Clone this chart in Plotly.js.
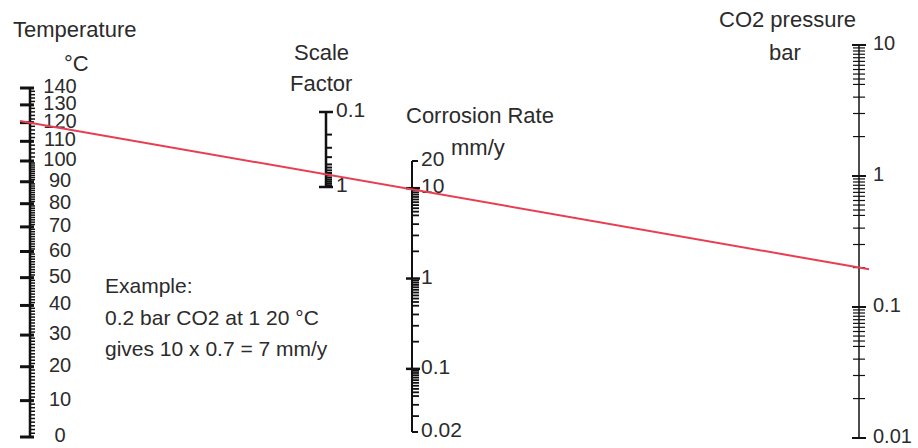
<!DOCTYPE html>
<html><head><meta charset="utf-8">
<script src="https://cdn.plot.ly/plotly-3.0.1.min.js"></script>
<style>html,body{margin:0;padding:0;background:#fff}#chart{width:918px;height:448px}</style>
</head><body><div id="chart"></div>
<script>
// ---------------- data ----------------
const tempMajor = [0,10,20,30,40,50,60,70,80,90,100,110,120,130,140];
const tempLabels = ['0','10','20','30','40','50','60','70','80','90','100','110','120','130','140'];
const sfEnds = [0.1, 1];
const sfLabels = ['0.1', '1'];
const sfMinor = [0.2,0.3,0.4,0.5,0.55,0.6,0.65,0.7,0.75,0.8,0.85,0.9,0.95];
const crMajor = [10, 1, 0.1];
const crEnds = [20, 0.02];
const crTickVals = [20, 10, 1, 0.1, 0.02];
const crLabels = ['20', '10', '1', '0.1', '0.02'];
const logMantissa = [2,3,4,5,5.5,6,6.5,7,7.5,8,8.5,9,9.5];
const co2Major = [10, 1, 0.1, 0.01];
const co2Labels = ['10', '1', '0.1', '0.01'];
const exampleTemp = 120;   // °C
const examplePco2 = 0.2;   // bar

// ---------------- layout geometry ----------------
const W = 918, H = 448;
const xT = 30, xSF = 326, xCR = 412, xCO2 = 859;
const FONT = 'Liberation Sans, Arial, sans-serif';
const TXT = '#2b2b2b', INK = '#111';

const Ltemp = t => 1000 / (t + 273.15);
const Llog = v => Math.log10(v);
function rangeFor(L, v0, py0, v1, py1) {
  const s = (L(v1) - L(v0)) / (py1 - py0);
  return [L(v0) + (H - py0) * s, L(v0) - py0 * s];
}
const rT = rangeFor(Ltemp, 0, 437, 140, 88);
const rSF = rangeFor(Llog, 0.1, 112, 1, 187);
const rCR = rangeFor(Llog, 20, 161, 0.02, 432);
const rCO2 = rangeFor(Llog, 10, 45, 0.01, 438);
const frac = (l, r) => (l - r[0]) / (r[1] - r[0]);

function segs(vals, xl, xr, tf) {
  const x = [], y = [];
  vals.forEach(v => { const yy = tf ? tf(v) : v; x.push(xl, xr, null); y.push(yy, yy, null); });
  return {x, y};
}
function lineTrace(s, yaxis, width, color) {
  return {type:'scatter', mode:'lines', x:s.x, y:s.y, yaxis, xaxis:'x',
    line:{color: color || INK, width}, hoverinfo:'skip', showlegend:false};
}
function textTrace(x, vals, labels, yaxis, pos, tf, size) {
  return {type:'scatter', mode:'text', x: vals.map(() => x), y: vals.map(v => tf ? tf(v) : v),
    text: labels, textposition: pos, yaxis, xaxis:'x', cliponaxis:false,
    textfont:{family:FONT, size: size || 20, color:TXT}, hoverinfo:'skip', showlegend:false};
}

// minor ticks
const tempMinor = [];
for (let t = 1; t < 100; t++) if (t % 10) tempMinor.push(t);
for (let t = 102; t < 140; t += 2) if (t % 10) tempMinor.push(t);
const crMinor = [];
[1, 0.1].forEach(d => logMantissa.forEach(m => crMinor.push(m * d)));
logMantissa.filter(m => m >= 3).forEach(m => crMinor.push(m * 0.01));
const co2Minor = [];
[1, 0.1, 0.01].forEach(d => logMantissa.forEach(m => co2Minor.push(m * d)));

const traces = [];
// Temperature scale
traces.push(lineTrace({x:[xT,xT], y:[Ltemp(0), Ltemp(140)]}, 'y', 2.5));
traces.push(lineTrace(segs(tempMajor, xT - 10, xT + 4, Ltemp), 'y', 3));
traces.push(lineTrace(segs(tempMinor, xT, xT + 5, Ltemp), 'y', 1.5));
traces.push(textTrace(60, tempMajor, tempLabels, 'y', 'middle center', Ltemp, 20));
// Scale factor
traces.push(lineTrace({x:[xSF,xSF], y:sfEnds}, 'y2', 2.5));
traces.push(lineTrace(segs(sfEnds, xSF - 7, xSF + 7), 'y2', 2.5));
traces.push(lineTrace(segs(sfMinor, xSF, xSF + 6), 'y2', 2));
traces.push(textTrace(336, sfEnds, sfLabels, 'y2', 'middle right', null, 21));
// Corrosion rate
traces.push(lineTrace({x:[xCR,xCR], y:crEnds}, 'y3', 2));
traces.push(lineTrace(segs(crEnds, xCR, xCR + 6), 'y3', 2));
traces.push(lineTrace(segs(crMajor, xCR - 6, xCR + 8), 'y3', 2.5));
traces.push(lineTrace(segs(crMinor, xCR, xCR + 7), 'y3', 1.8));
traces.push(textTrace(421, crTickVals, crLabels, 'y3', 'middle right', null, 21));
// CO2 pressure
traces.push(lineTrace({x:[xCO2,xCO2], y:[10, 0.01]}, 'y4', 1.5));
traces.push(lineTrace(segs(co2Major, xCO2 - 7, xCO2 + 7), 'y4', 2));
traces.push(lineTrace(segs(co2Minor, xCO2 - 6, xCO2 + 6), 'y4', 1.2));
traces.push(textTrace(873, co2Major, co2Labels, 'y4', 'middle right', null, 20));
// Example isopleth
const fA = frac(Ltemp(exampleTemp), rT), fB = frac(Llog(examplePco2), rCO2);
const fy = x => fA + (x - xT) * (fB - fA) / (xCO2 - xT);
traces.push({type:'scatter', mode:'lines', x:[xT - 10, xCO2 + 10], y:[fy(xT - 10), fy(xCO2 + 10)],
  yaxis:'y5', xaxis:'x', line:{color:'rgb(232,62,82)', width:2}, hoverinfo:'skip', showlegend:false});

function ann(text, px, py, xanchor, size) {
  return {text, x: px / W, y: 1 - py / H, xref:'paper', yref:'paper', showarrow:false,
    xanchor: xanchor || 'center', yanchor:'middle', font:{family:FONT, size: size || 22, color:TXT}};
}
const annotations = [
  ann('Temperature', 75, 30), ann('°C', 76, 63),
  ann('Scale', 321, 53), ann('Factor', 321, 83),
  ann('Corrosion Rate', 480, 115), ann('mm/y', 478, 148),
  ann('CO2 pressure', 787, 20), ann('bar', 785, 52),
  ann('Example:', 103, 285, 'left', 21),
  ann('0.2 bar CO2 at 1 20 °C', 103, 317, 'left', 21),
  ann('gives 10 x 0.7 = 7 mm/y', 103, 348, 'left', 21)
];

const hid = {visible:false, fixedrange:true, autorange:false};
const layout = {
  width: W, height: H, margin:{l:0, r:0, t:0, b:0, pad:0},
  paper_bgcolor:'#fff', plot_bgcolor:'rgba(0,0,0,0)', showlegend:false, hovermode:false,
  xaxis: Object.assign({range:[0, W], domain:[0,1]}, hid),
  yaxis: Object.assign({range:rT, domain:[0,1]}, hid),
  yaxis2: Object.assign({type:'log', range:rSF, overlaying:'y'}, hid),
  yaxis3: Object.assign({type:'log', range:rCR, overlaying:'y'}, hid),
  yaxis4: Object.assign({type:'log', range:rCO2, overlaying:'y'}, hid),
  yaxis5: Object.assign({range:[0,1], overlaying:'y'}, hid),
  annotations
};
Plotly.newPlot('chart', traces, layout, {staticPlot:true, displayModeBar:false});
</script>
</body></html>
